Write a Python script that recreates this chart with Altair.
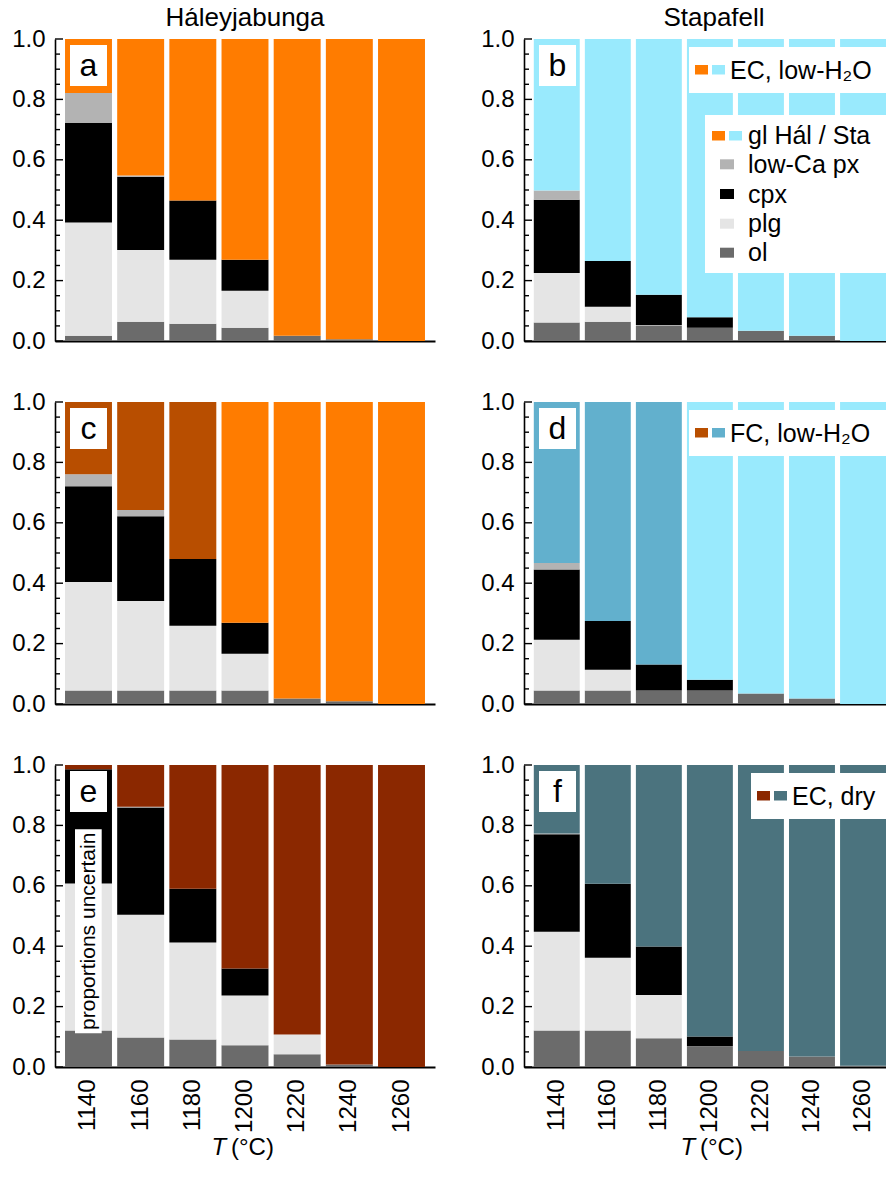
import altair as alt
import pandas as pd

FONT = "Liberation Sans"

temps = [1140, 1160, 1180, 1200, 1220, 1240, 1260]

# fractions of each crystallising phase (bottom -> top); glass is the remainder
a_ol   = [0.017, 0.064, 0.057, 0.044, 0.017, 0.006, 0.000]
a_plg  = [0.375, 0.237, 0.212, 0.122, 0.000, 0.000, 0.000]
a_cpx  = [0.330, 0.243, 0.196, 0.103, 0.000, 0.000, 0.000]
a_lcpx = [0.099, 0.004, 0.000, 0.000, 0.000, 0.000, 0.000]
a_gl   = ["EC Hál"] * 7

b_ol   = [0.061, 0.064, 0.050, 0.044, 0.034, 0.017, 0.000]
b_plg  = [0.164, 0.049, 0.002, 0.000, 0.000, 0.000, 0.000]
b_cpx  = [0.243, 0.152, 0.101, 0.035, 0.000, 0.000, 0.000]
b_lcpx = [0.030, 0.000, 0.000, 0.000, 0.000, 0.000, 0.000]
b_gl   = ["EC Sta"] * 7

c_ol   = [0.045, 0.045, 0.045, 0.045, 0.018, 0.009, 0.000]
c_plg  = [0.359, 0.296, 0.214, 0.121, 0.000, 0.000, 0.000]
c_cpx  = [0.317, 0.281, 0.221, 0.103, 0.000, 0.000, 0.000]
c_lcpx = [0.040, 0.020, 0.000, 0.000, 0.000, 0.000, 0.000]
c_gl   = ["FC Hál", "FC Hál", "FC Hál", "EC Hál", "EC Hál", "EC Hál", "EC Hál"]

d_ol   = [0.045, 0.045, 0.045, 0.045, 0.035, 0.018, 0.000]
d_plg  = [0.168, 0.068, 0.000, 0.000, 0.000, 0.000, 0.000]
d_cpx  = [0.232, 0.162, 0.086, 0.035, 0.000, 0.000, 0.000]
d_lcpx = [0.022, 0.000, 0.000, 0.000, 0.000, 0.000, 0.000]
d_gl   = ["FC Sta", "FC Sta", "FC Sta", "EC Sta", "EC Sta", "EC Sta", "EC Sta"]

e_ol   = [0.121, 0.098, 0.091, 0.072, 0.042, 0.008, 0.000]
e_plg  = [0.487, 0.406, 0.321, 0.165, 0.066, 0.000, 0.000]
e_cpx  = [0.378, 0.355, 0.178, 0.089, 0.000, 0.000, 0.000]
e_lcpx = [0.000, 0.003, 0.000, 0.000, 0.000, 0.000, 0.000]
e_gl   = ["dry Hál"] * 7

f_ol   = [0.121, 0.121, 0.095, 0.066, 0.053, 0.035, 0.004]
f_plg  = [0.327, 0.241, 0.143, 0.002, 0.000, 0.000, 0.000]
f_cpx  = [0.323, 0.245, 0.161, 0.033, 0.000, 0.000, 0.000]
f_lcpx = [0.002, 0.000, 0.000, 0.000, 0.000, 0.000, 0.000]
f_gl   = ["dry Sta"] * 7

colour_keys = ["ol", "plg", "cpx", "low-Ca px",
               "EC Hál", "EC Sta", "FC Hál", "FC Sta", "dry Hál", "dry Sta"]
colour_vals = ["#6b6b6b", "#e5e5e5", "#000000", "#b3b3b3",
               "#ff7c00", "#99eafd", "#b84e00", "#62b0cd", "#8b2800", "#4b737e"]
COL = dict(zip(colour_keys, colour_vals))

major_ticks = [0.0, 0.2, 0.4, 0.6, 0.8, 1.0]
minor_ticks = [0.05, 0.1, 0.15, 0.25, 0.3, 0.35, 0.45, 0.5, 0.55,
               0.65, 0.7, 0.75, 0.85, 0.9, 0.95]

W_L, W_R, H = 380, 362, 302
FS = 24      # tick labels
LFS = 25     # legend text
T_LABEL_Y = 88


def panel_df(ol, plg, cpx, lcpx, gl):
    rows = []
    for i, t in enumerate(temps):
        parts = [("ol", ol[i], "ol"), ("plg", plg[i], "plg"),
                 ("cpx", cpx[i], "cpx"), ("low-Ca px", lcpx[i], "low-Ca px")]
        rest = round(1 - sum(p[1] for p in parts), 4)
        parts.append(("gl", rest, gl[i]))
        for k, (ph, v, c) in enumerate(parts):
            rows.append({"T": t, "phase": ph, "frac": v, "colour": c, "ord": k})
    return pd.DataFrame(rows)


one = pd.DataFrame({"k": [0]})


def rect(x, x2, y, y2, fill):
    return alt.Chart(one).mark_rect(fill=fill, stroke=None).encode(
        x=alt.value(x), x2=alt.value(x2), y=alt.value(y), y2=alt.value(y2))


def text(s, x, y, size=LFS, align="left", baseline="alphabetic", style="normal", angle=0):
    kw = dict(font=FONT, fontSize=size, align=align, baseline=baseline,
              fontStyle=style, color="black")
    if angle:
        kw["angle"] = angle
    return alt.Chart(one).mark_text(**kw).encode(
        x=alt.value(x), y=alt.value(y), text=alt.value(s))


def panel(df, letter, right, bottom, title=None, legend=None, extra=None):
    width = W_R if right else W_L
    if right:
        xscale = alt.Scale(paddingInner=0.1, paddingOuter=0.096, align=1)
    else:
        xscale = alt.Scale(paddingInner=0.1, paddingOuter=0.192)
    xaxis = alt.Axis(labels=bottom, labelAngle=270, labelPadding=12, ticks=False,
                     domainWidth=2, title=None, labelFontSize=FS)
    yaxis = alt.Axis(values=major_ticks, format=".1f", labelPadding=10, ticks=False,
                     domainWidth=1.6, title=None, labelFontSize=FS)
    yscale = alt.Scale(domain=[0, 1], nice=False)
    bars = alt.Chart(df).mark_bar(stroke=None).encode(
        x=alt.X("T:O", scale=xscale, axis=xaxis),
        y=alt.Y("frac:Q", stack="zero", scale=yscale, axis=yaxis),
        color=alt.Color("colour:N", scale=alt.Scale(domain=colour_keys, range=colour_vals),
                        legend=None),
        order=alt.Order("ord:Q"),
    )
    tmaj = alt.Chart(pd.DataFrame({"frac": major_ticks})).mark_rule(
        color="black", strokeWidth=1.4).encode(
        y=alt.Y("frac:Q", scale=yscale, axis=yaxis), x=alt.value(0), x2=alt.value(8))
    tmin = alt.Chart(pd.DataFrame({"frac": minor_ticks})).mark_rule(
        color="black", strokeWidth=1.4).encode(
        y=alt.Y("frac:Q", scale=yscale, axis=yaxis), x=alt.value(0), x2=alt.value(5))
    layers = [bars, tmaj, tmin,
              rect(15, 52, 6, 47, "white"),
              text(letter, 33.5, 27, size=32, align="center", baseline="middle")]
    if extra:
        layers += extra
    if legend:
        layers += legend
    if title:
        layers.append(text(title, 190, -13, size=26, align="center"))
    if bottom:
        layers += [text("T", 156.5, T_LABEL_Y + H, size=FS, style="italic"),
                   text("(°C)", 176, T_LABEL_Y + H, size=FS)]
    return alt.layer(*layers).properties(width=width, height=H)


def head_legend(label, c1, c2, x0):
    return [rect(x0, W_R, 8, 54, "white"),
            rect(x0 + 6, x0 + 19, 26, 35.5, COL[c1]),
            rect(x0 + 23, x0 + 36, 26, 35.5, COL[c2]),
            text(label, x0 + 41, 39.5)]


phase_legend = [rect(181, W_R, 76, 234, "white"),
                rect(188, 201, 92, 101.5, COL["EC Hál"]),
                rect(205, 218, 92, 101.5, COL["EC Sta"]),
                text("gl Hál / Sta", 224, 105)]
for lab, yc in [("low-Ca px", 125.3), ("cpx", 155), ("plg", 184.7), ("ol", 213.7)]:
    phase_legend += [rect(196, 210, yc - 5, yc + 5, COL[lab]),
                     text(lab, 224, yc + 8.6)]

unc = [rect(20, 46.7, 64.3, 268.3, "white"),
       text("proportions uncertain", 33.5, 166.3, size=21, align="center",
            baseline="middle", angle=270)]

pa = panel(panel_df(a_ol, a_plg, a_cpx, a_lcpx, a_gl), "a", False, False, title="Háleyjabunga")
pb = panel(panel_df(b_ol, b_plg, b_cpx, b_lcpx, b_gl), "b", True, False, title="Stapafell",
           legend=head_legend("EC, low-H₂O", "EC Hál", "EC Sta", 165) + phase_legend)
pc = panel(panel_df(c_ol, c_plg, c_cpx, c_lcpx, c_gl), "c", False, False)
pd_ = panel(panel_df(d_ol, d_plg, d_cpx, d_lcpx, d_gl), "d", True, False,
            legend=head_legend("FC, low-H₂O", "FC Hál", "FC Sta", 165))
pe = panel(panel_df(e_ol, e_plg, e_cpx, e_lcpx, e_gl), "e", False, True, extra=unc)
pf = panel(panel_df(f_ol, f_plg, f_cpx, f_lcpx, f_gl), "f", True, True,
           legend=head_legend("EC, dry", "dry Hál", "dry Sta", 227))

chart = alt.concat(pa, pb, pc, pd_, pe, pf, columns=2,
                   spacing={"row": 61, "column": 89}, bounds="flush").properties(
    padding={"left": 3, "top": -3, "right": 0, "bottom": 0}
).configure_view(stroke=None).configure_axis(
    labelFont=FONT, labelColor="black", domainColor="black", grid=False
)

chart.save("out.html", embed_options={"renderer": "svg", "actions": False})
